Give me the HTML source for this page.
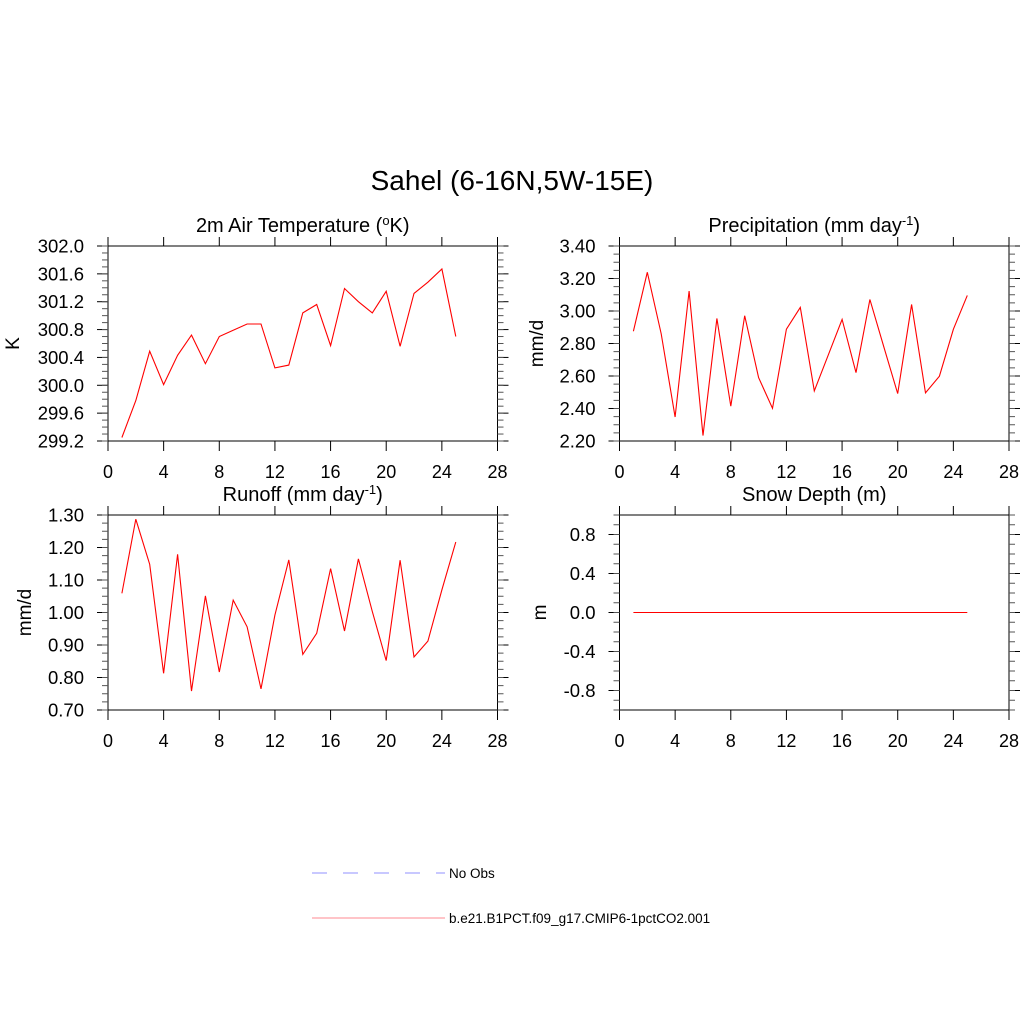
<!DOCTYPE html>
<html><head><meta charset="utf-8"><style>
html,body{margin:0;padding:0;background:#fff;}
svg{display:block;font-family:"Liberation Sans",Arial,sans-serif;}
</style></head><body>
<svg id="chart" width="1024" height="1024" viewBox="0 0 1024 1024" xmlns="http://www.w3.org/2000/svg">
<rect width="1024" height="1024" fill="#fff"/>
<text x="512" y="190" font-size="28" text-anchor="middle">Sahel (6-16N,5W-15E)</text>
<g>
<line x1="312" y1="873" x2="445" y2="873" stroke="#a8a8ff" stroke-width="1.3" stroke-dasharray="15,16"/>
<text x="449" y="878" font-size="13.5">No Obs</text>
<line x1="312" y1="918" x2="445" y2="918" stroke="#ffa0a8" stroke-width="1.3"/>
<text x="449" y="923" font-size="13.5">b.e21.B1PCT.f09_g17.CMIP6-1pctCO2.001</text>
</g>
</svg>
<script>
const xTicks = [0,4,8,12,16,20,24,28];
const years = [1,2,3,4,5,6,7,8,9,10,11,12,13,14,15,16,17,18,19,20,21,22,23,24,25];
const tempVals = [299.25,299.78,300.49,300.01,300.43,300.72,300.31,300.70,300.79,300.88,300.88,300.25,300.29,301.04,301.16,300.57,301.39,301.20,301.04,301.35,300.56,301.32,301.48,301.67,300.70];
const precVals = [2.876,3.238,2.86,2.348,3.123,2.233,2.954,2.414,2.971,2.590,2.401,2.888,3.022,2.508,2.728,2.948,2.621,3.071,2.78,2.492,3.040,2.496,2.599,2.888,3.096];
const runoffVals = [1.059,1.287,1.148,0.813,1.179,0.758,1.051,0.817,1.038,0.956,0.765,0.992,1.162,0.871,0.936,1.135,0.943,1.165,1.003,0.852,1.161,0.863,0.912,1.07,1.217];
const snowVals = [0,0,0,0,0,0,0,0,0,0,0,0,0,0,0,0,0,0,0,0,0,0,0,0,0];
const tempTicks = ["299.2","299.6","300.0","300.4","300.8","301.2","301.6","302.0"];
const precTicks = ["2.20","2.40","2.60","2.80","3.00","3.20","3.40"];
const runoffTicks = ["0.70","0.80","0.90","1.00","1.10","1.20","1.30"];
const snowTicks = ["-0.8","-0.4","0.0","0.4","0.8"];

const NS="http://www.w3.org/2000/svg";
const svg=document.getElementById('chart');
function mk(tag,attrs,parent){const e=document.createElementNS(NS,tag);for(const k in attrs)e.setAttribute(k,attrs[k]);(parent||svg).appendChild(e);return e;}

function panel(o){
  const g=mk('g',{});
  
  
  const L=o.L,R=o.R,T=o.T,B=o.B;
  const xs=v=>L+(v-0)/(28-0)*(R-L);
  const ys=v=>B-(v-o.ymin)/(o.ymax-o.ymin)*(B-T);
  const fr=mk('rect',{x:L,y:T,width:R-L,height:B-T,fill:'none',stroke:'#000','stroke-width':1},g);
  
  
  xTicks.forEach(t=>{
    const x=xs(t);
    mk('line',{x1:x,y1:B,x2:x,y2:B+10,stroke:'#000','stroke-width':1},g);
    mk('line',{x1:x,y1:T,x2:x,y2:T-9,stroke:'#000','stroke-width':1},g);
    const tx=mk('text',{x:x,y:B+37,'font-size':18,'text-anchor':'middle'},g);
    tx.textContent=t;
    
    
  });
  const n=o.ticks.length;
  for(let i=0;i<n;i++){
    const v=parseFloat(o.ticks[i]);
    const y=ys(v);
    mk('line',{x1:L,y1:y,x2:L-11,y2:y,stroke:'#000','stroke-width':1},g);
    mk('line',{x1:R,y1:y,x2:R+11,y2:y,stroke:'#000','stroke-width':1},g);
    const tx=mk('text',{x:L-24,y:y+6.5,'font-size':18.5,'text-anchor':'end'},g);
    tx.textContent=o.ticks[i];
    
    
  }
  for(let v=o.ymin;v<=o.ymax+1e-9;v+=o.minor){
    const y=ys(v);
    mk('line',{x1:L,y1:y,x2:L-6,y2:y,stroke:'#555','stroke-width':1},g);
    mk('line',{x1:R,y1:y,x2:R+6,y2:y,stroke:'#555','stroke-width':1},g);
  }
  const tt=mk('text',{x:(L+R)/2,y:T-14,'font-size':20,'text-anchor':'middle'},g);
  tt.innerHTML=o.title;
  
  
  const yt=mk('text',{x:0,y:0,'font-size':19,'text-anchor':'middle',transform:`translate(${o.ytx},${(T+B)/2}) rotate(-90)`},g);
  yt.textContent=o.ylabel;
  
  
  const pts=years.map((yr,i)=>xs(yr).toFixed(1)+','+ys(o.vals[i]).toFixed(1)).join(' ');
  const pl=mk('polyline',{points:pts,fill:'none',stroke:'#ff0000','stroke-width':1.1},g);
  
  
}
panel({name:'temperature-panel',L:108,R:497.5,T:246,B:441,ymin:299.2,ymax:302.0,minor:0.1,ticks:tempTicks,vals:tempVals,
  title:'2m Air Temperature (<tspan dy="-7" font-size="13">o</tspan><tspan dy="7">K)</tspan>',ylabel:'K',ytx:19});
panel({name:'precipitation-panel',L:619.5,R:1009,T:246,B:441,ymin:2.2,ymax:3.4,minor:0.05,ticks:precTicks,vals:precVals,
  title:'Precipitation (mm day<tspan dy="-7" font-size="13">-1</tspan><tspan dy="7">)</tspan>',ylabel:'mm/d',ytx:543});
panel({name:'runoff-panel',L:108,R:497.5,T:515,B:710,ymin:0.7,ymax:1.3,minor:0.025,ticks:runoffTicks,vals:runoffVals,
  title:'Runoff (mm day<tspan dy="-7" font-size="13">-1</tspan><tspan dy="7">)</tspan>',ylabel:'mm/d',ytx:31});
panel({name:'snow-depth-panel',L:619.5,R:1009,T:515,B:710,ymin:-1.0,ymax:1.0,minor:0.1,ticks:snowTicks,vals:snowVals,
  title:'Snow Depth (m)',ylabel:'m',ytx:546});
</script>
</body></html>
